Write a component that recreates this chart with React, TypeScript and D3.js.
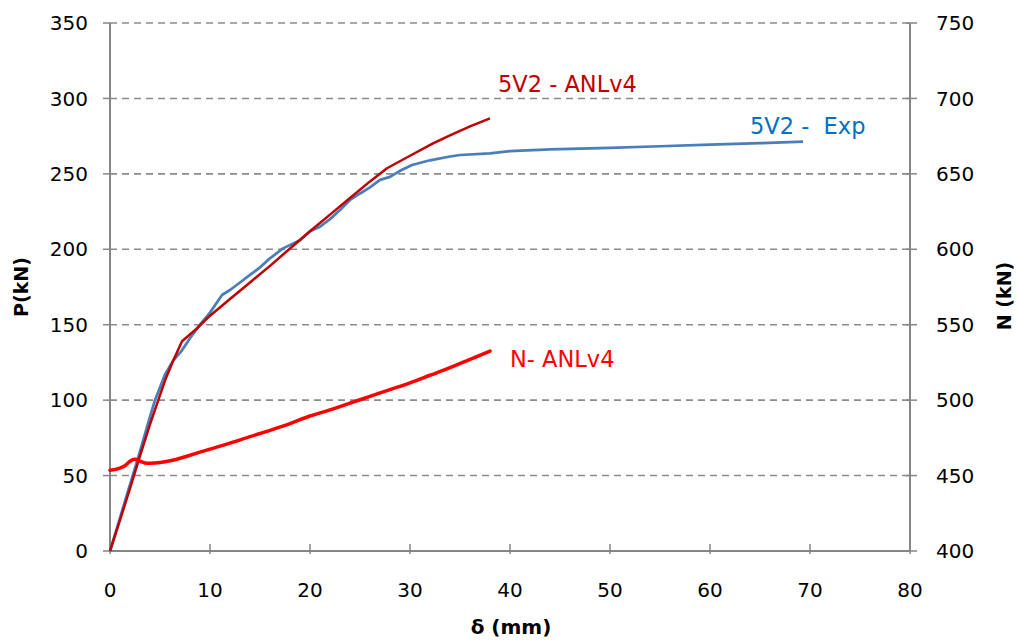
import React, { useEffect, useRef } from 'react'
import * as d3 from 'd3'

// 5V2 - Exp (blue), left axis
const expDelta = [0, 1, 2, 3, 4, 4.5, 5.5, 6.3, 7.2, 8, 9, 10, 11.2, 12, 13, 14, 15, 16, 17.3, 19, 20, 21, 22, 23, 24, 25, 26, 27, 28, 29, 30.2, 32, 34, 35, 38, 40, 44, 50, 55, 60, 65, 69.3]
const expP = [0, 22, 44, 66, 89, 100, 117, 126, 133, 141, 150, 158, 169.7, 173, 178, 183, 188, 194, 200.6, 206, 212, 215, 220, 226, 232.7, 237, 241, 246, 248, 252, 255.9, 259, 261.5, 262.5, 263.5, 265, 266.3, 267.3, 268.3, 269.3, 270.3, 271.3]

// 5V2 - ANLv4 (dark red), left axis
const anlDelta = [0, 1, 2, 3, 4, 4.83, 5.5, 6.3, 7.2, 8.6, 10, 12, 14, 16, 18, 20, 22, 24, 26, 27.7, 30, 32.3, 34, 36, 38]
const anlP = [0, 20.5, 41.5, 63, 84, 100, 113, 126, 139, 147, 156, 167, 178, 189, 200.5, 212, 223, 234, 245, 253.7, 262, 270.2, 275.5, 281.5, 286.8]

// N - ANLv4 (red), right axis
const nDelta = [0, 1, 1.5, 2, 2.5, 3, 3.7, 4.5, 5.5, 6.5, 8, 10, 12, 14, 16, 18, 20, 22, 24, 26, 28, 30, 32, 34, 36, 38]
const nN = [453.5, 455, 456.5, 459.5, 460.8, 459.5, 458.1, 458.4, 459.2, 460.5, 463.5, 467.5, 471.5, 475.8, 480, 484.5, 489.5, 493.5, 498, 502.5, 507, 511.5, 516.5, 521.5, 527, 532.5]

const xTicks = [0, 10, 20, 30, 40, 50, 60, 70, 80]
const leftTicks = [0, 50, 100, 150, 200, 250, 300, 350]
const rightTicks = [400, 450, 500, 550, 600, 650, 700, 750]

const font = 'DejaVu Sans, sans-serif'

const App = () => {
  const svgRef = useRef(null)

  useEffect(() => {
    if (!svgRef.current) return
    const svg = d3.select(svgRef.current)
    svg.selectAll('*').remove()

    const x = d3.scaleLinear().domain([0, 80]).range([110, 910])
    const yL = d3.scaleLinear().domain([0, 350]).range([551, 23])
    const yR = d3.scaleLinear().domain([400, 750]).range([551, 23])

    // grid
    svg
      .append('g')
      .selectAll('line')
      .data(leftTicks.filter((d) => d > 0))
      .join('line')
      .attr('x1', x(0))
      .attr('x2', x(80))
      .attr('y1', (d) => yL(d))
      .attr('y2', (d) => yL(d))
      .attr('stroke', '#8c8c8c')
      .attr('stroke-width', 1.6)
      .attr('stroke-dasharray', '7,5')

    // axes
    const axisColor = '#868686'
    const g = svg.append('g')
    g.append('line').attr('x1', x(0)).attr('x2', x(0)).attr('y1', yL(350)).attr('y2', yL(0)).attr('stroke', axisColor).attr('stroke-width', 2)
    g.append('line').attr('x1', x(80)).attr('x2', x(80)).attr('y1', yL(350)).attr('y2', yL(0)).attr('stroke', axisColor).attr('stroke-width', 2)
    g.append('line').attr('x1', x(0)).attr('x2', x(80)).attr('y1', yL(0)).attr('y2', yL(0)).attr('stroke', axisColor).attr('stroke-width', 2)

    g.selectAll('.lt')
      .data(leftTicks)
      .join('line')
      .attr('x1', x(0) - 7)
      .attr('x2', x(0))
      .attr('y1', (d) => yL(d))
      .attr('y2', (d) => yL(d))
      .attr('stroke', axisColor)
      .attr('stroke-width', 1.5)
    g.selectAll('.rt')
      .data(rightTicks)
      .join('line')
      .attr('x1', x(80) - 4)
      .attr('x2', x(80) + 7)
      .attr('y1', (d) => yR(d))
      .attr('y2', (d) => yR(d))
      .attr('stroke', axisColor)
      .attr('stroke-width', 1.5)
    g.selectAll('.xt')
      .data(xTicks)
      .join('line')
      .attr('x1', (d) => x(d))
      .attr('x2', (d) => x(d))
      .attr('y1', yL(0) - 7)
      .attr('y2', yL(0) + 3)
      .attr('stroke', axisColor)
      .attr('stroke-width', 1.5)

    // tick labels
    const labels = svg.append('g').attr('font-family', font).attr('font-size', 20).attr('fill', '#000')
    labels
      .selectAll('.ll')
      .data(leftTicks)
      .join('text')
      .attr('x', 88)
      .attr('y', (d) => yL(d))
      .attr('dy', '0.36em')
      .attr('text-anchor', 'end')
      .text((d) => d)
    labels
      .selectAll('.rl')
      .data(rightTicks)
      .join('text')
      .attr('x', 936)
      .attr('y', (d) => yR(d))
      .attr('dy', '0.36em')
      .attr('text-anchor', 'start')
      .text((d) => d)
    labels
      .selectAll('.xl')
      .data(xTicks)
      .join('text')
      .attr('x', (d) => x(d))
      .attr('y', 597)
      .attr('text-anchor', 'middle')
      .text((d) => d)

    // axis titles
    svg
      .append('text')
      .attr('transform', 'translate(28,287) rotate(-90)')
      .attr('text-anchor', 'middle')
      .attr('font-family', font)
      .attr('font-weight', 'bold')
      .attr('font-size', 19)
      .text('P(kN)')
    svg
      .append('text')
      .attr('transform', 'translate(1011,296) rotate(-90)')
      .attr('text-anchor', 'middle')
      .attr('font-family', font)
      .attr('font-weight', 'bold')
      .attr('font-size', 19)
      .text('N (kN)')
    svg
      .append('text')
      .attr('x', 511)
      .attr('y', 634)
      .attr('text-anchor', 'middle')
      .attr('font-family', font)
      .attr('font-weight', 'bold')
      .attr('font-size', 20)
      .text('δ (mm)')

    // series
    const lineL = d3
      .line<[number, number]>()
      .x((d) => x(d[0]))
      .y((d) => yL(d[1]))
    const lineR = d3
      .line<[number, number]>()
      .x((d) => x(d[0]))
      .y((d) => yR(d[1]))
      .curve(d3.curveMonotoneX)

    svg
      .append('path')
      .datum(expDelta.map((d, i) => [d, expP[i]] as [number, number]))
      .attr('d', lineL)
      .attr('fill', 'none')
      .attr('stroke', '#4a7ebb')
      .attr('stroke-width', 2.75)
      .attr('stroke-linejoin', 'round')
    svg
      .append('path')
      .datum(anlDelta.map((d, i) => [d, anlP[i]] as [number, number]))
      .attr('d', lineL)
      .attr('fill', 'none')
      .attr('stroke', '#c00000')
      .attr('stroke-width', 2.5)
      .attr('stroke-linejoin', 'round')
    svg
      .append('path')
      .datum(nDelta.map((d, i) => [d, nN[i]] as [number, number]))
      .attr('d', lineR)
      .attr('fill', 'none')
      .attr('stroke', '#ff0000')
      .attr('stroke-width', 3.5)
      .attr('stroke-linecap', 'round')

    // series labels
    const seriesLabels = [
      { text: '5V2 - ANLv4', x: 498, y: 92, color: '#c00000' },
      { text: '5V2 -  Exp', x: 750, y: 134, color: '#0070c0' },
      { text: 'N- ANLv4', x: 510, y: 367, color: '#ff0000' },
    ]
    svg
      .append('g')
      .selectAll('text')
      .data(seriesLabels)
      .join('text')
      .attr('x', (d) => d.x)
      .attr('y', (d) => d.y)
      .attr('fill', (d) => d.color)
      .attr('font-family', font)
      .attr('font-size', 22.5)
      .attr('xml:space', 'preserve')
      .style('white-space', 'pre')
      .text((d) => d.text)
  }, [])

  return (
    <svg
      ref={svgRef}
      width={1018}
      height={641}
      style={{ position: 'absolute', left: 0, top: 0, background: '#fff' }}
    ></svg>
  )
}

export default App
